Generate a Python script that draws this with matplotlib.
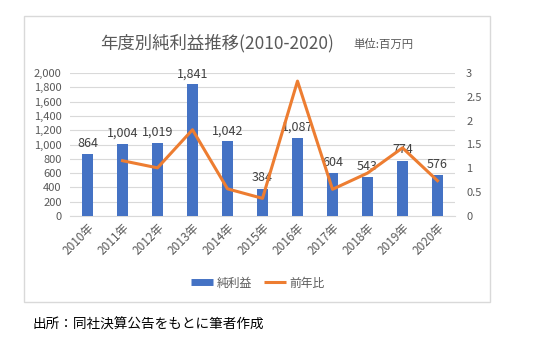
import matplotlib
matplotlib.use("Agg")
import matplotlib.pyplot as plt
from matplotlib.patches import Rectangle
from matplotlib.lines import Line2D

plt.rcParams['font.family'] = ['Noto Sans CJK JP', 'DejaVu Sans']

years = ['2010年', '2011年', '2012年', '2013年', '2014年', '2015年',
         '2016年', '2017年', '2018年', '2019年', '2020年']
profit = [864, 1004, 1019, 1841, 1042, 384, 1087, 604, 543, 774, 576]
ratio_years = years[1:]
ratio = [1.16, 1.01, 1.81, 0.57, 0.37, 2.83, 0.56, 0.90, 1.43, 0.74]

W, H = 534, 358
fig = plt.figure(figsize=(W / 100, H / 100), dpi=100)
fig.patch.set_facecolor('white')

# chart frame
fig.patches.append(Rectangle((24 / W, 1 - 302 / H), (490 - 24) / W, (302 - 16) / H,
                             transform=fig.transFigure, fill=False,
                             edgecolor='#d9d9d9', linewidth=1.0))

ax = fig.add_axes([70 / W, 1 - 216 / H, (455 - 70) / W, (216 - 73) / H])
ax2 = ax.twinx()

gray = '#595959'
x = list(range(len(years)))
ax.bar(x, profit, width=0.31, color='#4472C4', zorder=3)
ax.set_xlim(-0.5, len(years) - 0.5)
ax.set_ylim(0, 2000)
ax.set_yticks(range(0, 2001, 200))
ax.set_yticklabels([f'{v:,}' for v in range(0, 2001, 200)])
ax.grid(axis='y', color='#d9d9d9', linewidth=0.8, zorder=0)
ax.set_axisbelow(True)
for s in ['top', 'left', 'right']:
    ax.spines[s].set_visible(False)
ax.spines['bottom'].set_color('#d9d9d9')
ax.tick_params(axis='y', length=0, labelsize=8, labelcolor=gray, pad=6)
ax.tick_params(axis='x', length=0, labelsize=8.5, labelcolor=gray, pad=4)
ax.set_xticks(x)
ax.set_xticklabels(years, rotation=45, ha='right', rotation_mode='anchor')

for xi, v in zip(x, profit):
    ax.annotate(f'{v:,}', (xi, v), xytext=(0, 3), textcoords='offset points',
                ha='center', va='bottom', fontsize=9, color='#404040', zorder=5)

rx = [years.index(y) for y in ratio_years]
ax2.plot(rx, ratio, color='#ED7D31', linewidth=2.2, zorder=4)
ax2.set_ylim(0, 3)
ax2.set_yticks([0, 0.5, 1, 1.5, 2, 2.5, 3])
ax2.set_yticklabels(['0', '0.5', '1', '1.5', '2', '2.5', '3'])
ax2.tick_params(axis='y', length=0, labelsize=8, labelcolor=gray, pad=8)
for s in ['top', 'left', 'right', 'bottom']:
    ax2.spines[s].set_visible(False)

fig.text(217 / W, 1 - 43 / H, '年度別純利益推移(2010-2020)', ha='center', va='center',
         fontsize=12.5, color='#595959')
fig.text(353 / W, 1 - 44 / H, '単位:百万円', ha='left', va='center',
         fontsize=8.2, color='#595959')

handles = [Line2D([0], [0], color='#4472C4', linewidth=5, solid_capstyle='butt'),
           Line2D([0], [0], color='#ED7D31', linewidth=2.2, solid_capstyle='butt')]
fig.legend(handles, ['純利益', '前年比'], loc='center', bbox_to_anchor=(258 / W, 1 - 283 / H),
           ncol=2, frameon=False, fontsize=8.5, labelcolor=gray, handlelength=1.9,
           handletextpad=0.3, columnspacing=1.0)

fig.text(33 / W, 1 - 325 / H, '出所：同社決算公告をもとに筆者作成', ha='left', va='center',
         fontsize=9.8, color='black')

fig.savefig('out.png', dpi=100)
